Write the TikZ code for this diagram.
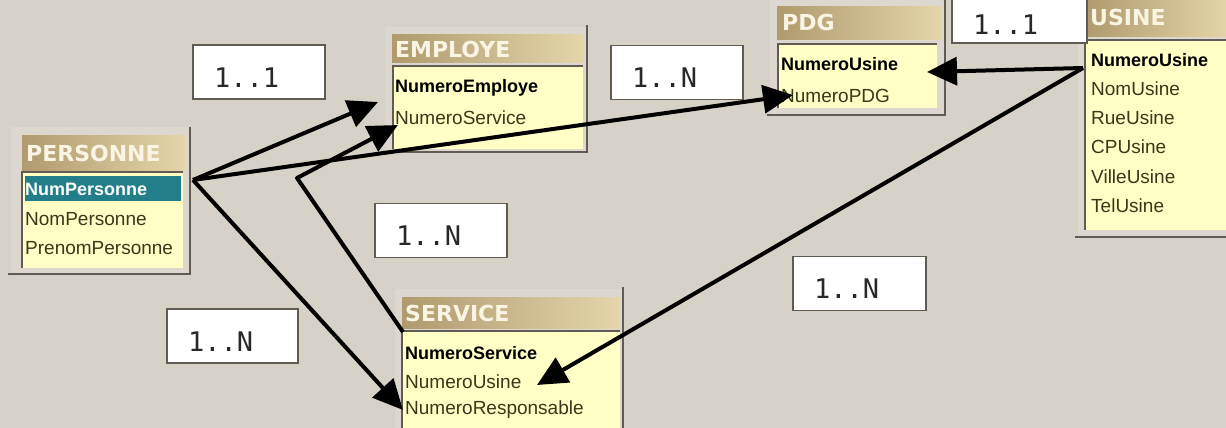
\documentclass[tikz,border=0pt]{standalone}
\usepackage{fontspec}
\usetikzlibrary{arrows.meta}
\setmainfont{Liberation Sans}
\newfontfamily\ttlfont{DejaVu Sans}
\newfontfamily\labfont{DejaVu Sans Mono}
\definecolor{bg}{RGB}{214,210,200}
\definecolor{framefillc}{RGB}{220,216,208}
\definecolor{framedarkc}{RGB}{96,92,84}
\definecolor{tanL}{RGB}{176,154,110}
\definecolor{tanR}{RGB}{228,214,170}
\definecolor{bodyc}{RGB}{255,255,198}
\definecolor{rowtxt}{RGB}{56,56,26}
\definecolor{tealc}{RGB}{34,126,136}
\definecolor{ttltxt}{RGB}{250,244,228}
\definecolor{labtxt}{RGB}{40,40,40}
\tikzset{
  framefill/.style={fill=framefillc},
  framedark/.style={draw=framedarkc, line width=2.5pt},
  titleshade/.style={left color=tanL, right color=tanR},
  bodyfill/.style={fill=bodyc},
  bodyline/.style={draw=framedarkc, line width=1.8pt},
  titletext/.style={anchor=west, inner sep=0pt, text=ttltxt, font=\ttlfont\bfseries\fontsize{22}{22}\selectfont},
  rowtext/.style={anchor=west, inner sep=0pt, text=rowtxt, font=\fontsize{19}{19}\selectfont},
  keytext/.style={rowtext, font=\bfseries\fontsize{18}{18}\selectfont, text=black},
  labbox/.style={draw=framedarkc, line width=1.6pt, fill=white, text=labtxt,
    font=\labfont\fontsize{27}{27}\selectfont, inner xsep=21pt, inner ysep=0pt,
    text height=30pt, text depth=0pt, align=left, minimum height=54pt},
  arr/.style={draw=black, line width=4pt, line join=round,
    -{Triangle[length=30pt,width=28pt]}}
}
\begin{document}
\begin{tikzpicture}[x=1pt,y=-1pt]
\useasboundingbox (0,0) rectangle (1226,428);
\fill[bg] (0,0) rectangle (1226,428);

% ---------------- PERSONNE
\fill[framefill] (11,127) rectangle (190,274);
\draw[framedark] (190,127) -- (190,274) -- (8,274);
\shade[titleshade] (22,135) rectangle (185,170);
\fill[bodyfill] (22,172) rectangle (183,268);
\draw[bodyline] (22,268) -- (22,172) -- (183,172);
\fill[tealc] (25,176) rectangle (181,201);
\node[titletext] (tpers) at (26,153) {PERSONNE};
\node[keytext, text=white] (p1) at (25,189) {NumPersonne};
\node[rowtext] (p2) at (25,219) {NomPersonne};
\node[rowtext] (p3) at (25,248) {PrenomPersonne};

% ---------------- EMPLOYE
\fill[framefill] (385,27) rectangle (587,152);
\draw[framedark] (587,25) -- (587,152) -- (382,152);
\shade[titleshade] (392,35) rectangle (583,63);
\fill[bodyfill] (393,66) rectangle (583,149);
\draw[bodyline] (393,149) -- (393,66) -- (583,66);
\node[titletext] (temp) at (395,49) {EMPLOYE};
\node[keytext] (e1) at (395,88) {NumeroEmploye};
\node[rowtext] (e2) at (395,118) {NumeroService};

% ---------------- PDG
\fill[framefill] (770,0) rectangle (945,115);
\draw[framedark] (945,0) -- (945,115) -- (767,115);
\shade[titleshade] (777,7) rectangle (942,40);
\fill[bodyfill] (778,44) rectangle (937,108);
\draw[bodyline] (778,108) -- (778,44) -- (937,44);
\node[titletext] (tpdg) at (782,22) {PDG};
\node[keytext] (d1) at (781,64) {NumeroUsine};
\node[rowtext] (d2) at (781,96) {NumeroPDG};

% ---------------- USINE
\fill[framefill] (1078,0) rectangle (1230,237);
\draw[framedark] (1075,237) -- (1230,237);
\shade[titleshade] (1085,0) rectangle (1230,37);
\fill[bodyfill] (1085,40) rectangle (1230,230);
\draw[bodyline] (1085,230) -- (1085,40) -- (1230,40);
\node[titletext] (tusi) at (1090,17) {USINE};
\node[keytext] (u1) at (1091,60) {NumeroUsine};
\node[rowtext] (u2) at (1091,89) {NomUsine};
\node[rowtext] (u3) at (1091,118) {RueUsine};
\node[rowtext] (u4) at (1091,147) {CPUsine};
\node[rowtext] (u5) at (1091,177) {VilleUsine};
\node[rowtext] (u6) at (1091,206) {TelUsine};

% ---------------- SERVICE
\fill[framefill] (395,289) rectangle (623,430);
\draw[framedark] (623,287) -- (623,430);
\shade[titleshade] (402,297) rectangle (620,328);
\fill[bodyfill] (402,331) rectangle (620,430);
\draw[bodyline] (402,430) -- (402,331) -- (620,331);
\node[titletext] (tser) at (405,313) {SERVICE};
\node[keytext] (s1) at (405,353) {NumeroService};
\node[rowtext] (s2) at (405,382) {NumeroUsine};
\node[rowtext] (s3) at (405,410) {NumeroResponsable};

% ---------------- cardinality labels
\node[labbox, text width=90pt] (l1) at (259,72) {1..1};
\node[labbox, text width=90pt] (l2) at (677,72.5) {1..N};
\node[labbox, text width=93pt, minimum height=62pt, text height=46pt] (l3) at (1019.5,12) {1..1};
\node[labbox, text width=90pt] (l4) at (441,230.5) {1..N};
\node[labbox, text width=91pt] (l5) at (859.5,283.5) {1..N};
\node[labbox, text width=89pt] (l6) at (232.5,336) {1..N};

% ---------------- connectors
\coordinate (pr) at (193,180);
\coordinate (empE) at (378,102);
\coordinate (empS) at (398,125);
\coordinate (pdgP) at (793,95);
\coordinate (pdgU) at (927,72);
\coordinate (usL) at (1083,68);
\coordinate (serR) at (403,410);
\coordinate (serU) at (537,385);
\coordinate (serC) at (403,332);
\coordinate (bend) at (297,178);

\draw[arr] (pr) -- (empE);
\draw[arr] (pr) -- (pdgP);
\draw[arr] (pr) -- (serR);
\draw[arr] (serC) -- (bend) -- (empS);
\draw[arr] (usL) -- (pdgU);
\draw[arr] (usL) -- (serU);
\end{tikzpicture}
\end{document}
